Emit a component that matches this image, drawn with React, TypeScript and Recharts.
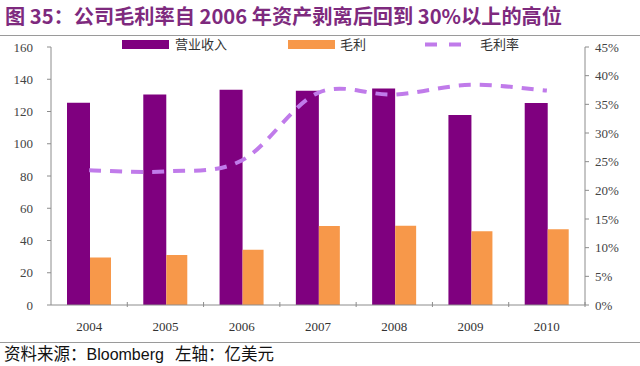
import React from 'react';
import { ComposedChart, Bar, Line, XAxis, YAxis } from 'recharts';

const YEARS = ['2004', '2005', '2006', '2007', '2008', '2009', '2010'];
const REVENUE = [125.5, 130.5, 133.5, 132.8, 134.2, 117.8, 125.3];
const GROSS_PROFIT = [29.5, 31, 34.3, 49, 49.2, 45.8, 47];
const GROSS_MARGIN = [0.235, 0.233, 0.252, 0.37, 0.367, 0.384, 0.374];

const LEFT_TICKS = [0, 20, 40, 60, 80, 100, 120, 140, 160];
const RIGHT_TICKS = [0, 0.05, 0.1, 0.15, 0.2, 0.25, 0.3, 0.35, 0.4, 0.45];

const SERIES_NAMES = { revenue: '营业收入', profit: '毛利', margin: '毛利率' };

const PURPLE = '#7F007F';
const ORANGE = '#F7984A';
const LILAC = '#C07BEA';
const AXIS = '#8C8C8C';

const data = YEARS.map((year, i) => ({
  year,
  revenue: REVENUE[i],
  profit: GROSS_PROFIT[i],
  margin: GROSS_MARGIN[i],
}));

const W = 640;
const LEFT_W = 51;
const RIGHT_W = 55;
const HALF_BAND = (W - LEFT_W - RIGHT_W) / YEARS.length / 2;

const serif = '"Liberation Serif", "DejaVu Serif", serif';
const cjk = '"Noto Sans CJK SC", sans-serif';

// excel-like smoothed line (catmull-rom through the points)
const smoothCurve = (ctx: any) => {
  let pts: number[][] = [];
  return {
    areaStart() {},
    areaEnd() {},
    lineStart() { pts = []; },
    point(x: number, y: number) { pts.push([+x, +y]); },
    lineEnd() {
      if (!pts.length) return;
      ctx.moveTo(pts[0][0], pts[0][1]);
      for (let i = 0; i < pts.length - 1; i++) {
        const p0 = pts[i - 1] || pts[i];
        const p1 = pts[i];
        const p2 = pts[i + 1];
        const p3 = pts[i + 2] || p2;
        ctx.bezierCurveTo(
          p1[0] + (p2[0] - p0[0]) / 6, p1[1] + (p2[1] - p0[1]) / 6,
          p2[0] - (p3[0] - p1[0]) / 6, p2[1] - (p3[1] - p1[1]) / 6,
          p2[0], p2[1],
        );
      }
    },
  };
};

const YearTick = (props: any) => {
  const { x, y, payload } = props;
  return (
    <g>
      <line x1={x + HALF_BAND} x2={x + HALF_BAND} y1={y} y2={y - 5} stroke={AXIS} />
      <text x={x} y={y + 24} textAnchor="middle" fontFamily={serif} fontSize={13} fill="#333">
        {payload.value}
      </text>
    </g>
  );
};

const ValueTick = (props: any) => {
  const { x, y, payload, textAnchor, fmt } = props;
  return (
    <text x={x} y={y} dy={4.5} textAnchor={textAnchor} fontFamily={serif} fontSize={13} fill="#444">
      {fmt ? fmt(payload.value) : payload.value}
    </text>
  );
};

const pct = (v: number) => `${Math.round(v * 100)}%`;

export default function App() {
  return (
    <div style={{ position: 'absolute', left: 0, top: 0, width: 640, height: 366, background: '#fff', overflow: 'hidden' }}>
      <div style={{ position: 'absolute', left: 5, top: 1, fontFamily: cjk, fontWeight: 700, fontSize: 20.2, color: '#7E2A7E', whiteSpace: 'nowrap' }}>
        图 35：公司毛利率自 2006 年资产剥离后回到 30%以上的高位
      </div>
      <div style={{ position: 'absolute', left: 0, top: 35, width: 640, height: 1, background: '#9a9a9a' }} />

      {/* legend */}
      <div style={{ position: 'absolute', left: 122, top: 40, width: 47, height: 9, background: PURPLE }} />
      <div style={{ position: 'absolute', left: 175, top: 35, fontFamily: cjk, fontSize: 13, color: '#333', lineHeight: '18px' }}>{SERIES_NAMES.revenue}</div>
      <div style={{ position: 'absolute', left: 288, top: 40, width: 47, height: 9, background: ORANGE }} />
      <div style={{ position: 'absolute', left: 340, top: 35, fontFamily: cjk, fontSize: 13, color: '#333', lineHeight: '18px' }}>{SERIES_NAMES.profit}</div>
      <svg style={{ position: 'absolute', left: 425, top: 40 }} width={36} height={9}>
        <line x1={0} x2={36} y1={4.5} y2={4.5} stroke={LILAC} strokeWidth={4} strokeDasharray="12 12" />
      </svg>
      <div style={{ position: 'absolute', left: 480, top: 35, fontFamily: cjk, fontSize: 13, color: '#333', lineHeight: '18px' }}>{SERIES_NAMES.margin}</div>

      <div style={{ position: 'absolute', left: 0, top: 0 }}>
        <ComposedChart width={W} height={366} data={data} margin={{ top: 47, right: 0, left: 0, bottom: 31 }} barGap={0}>
          <XAxis dataKey="year" height={30} stroke={AXIS} tickLine={false} tickSize={0} tick={<YearTick />} interval={0} />
          <YAxis
            yAxisId="left"
            width={LEFT_W}
            domain={[0, 160]}
            ticks={LEFT_TICKS}
            stroke={AXIS}
            tickSize={4}
            tickMargin={14}
            tick={<ValueTick />}
          />
          <YAxis
            yAxisId="right"
            orientation="right"
            width={RIGHT_W}
            domain={[0, 0.45]}
            ticks={RIGHT_TICKS}
            stroke={AXIS}
            tickSize={4}
            tickMargin={6}
            tick={<ValueTick fmt={pct} />}
          />
          <Bar yAxisId="left" dataKey="revenue" name={SERIES_NAMES.revenue} fill={PURPLE} barSize={23} isAnimationActive={false} />
          <Bar yAxisId="left" dataKey="profit" name={SERIES_NAMES.profit} fill={ORANGE} barSize={21} isAnimationActive={false} />
          <Line
            yAxisId="right"
            type={smoothCurve as any}
            dataKey="margin"
            name={SERIES_NAMES.margin}
            stroke={LILAC}
            strokeWidth={4}
            strokeDasharray="12 9"
            dot={false}
            isAnimationActive={false}
          />
        </ComposedChart>
      </div>

      <div style={{ position: 'absolute', left: 0, top: 342, width: 640, height: 1, background: '#9a9a9a' }} />
      <div style={{ position: 'absolute', left: 4, top: 343, fontSize: 16.5, color: '#111', whiteSpace: 'nowrap', lineHeight: '21px' }}>
        <span style={{ fontFamily: cjk }}>资料来源：</span>
        <span style={{ fontFamily: '"Liberation Sans", Arial, sans-serif', fontSize: 16 }}>Bloomberg</span>
        <span style={{ fontFamily: cjk }}>&nbsp;&nbsp;&nbsp;左轴：亿美元</span>
      </div>
    </div>
  );
}
